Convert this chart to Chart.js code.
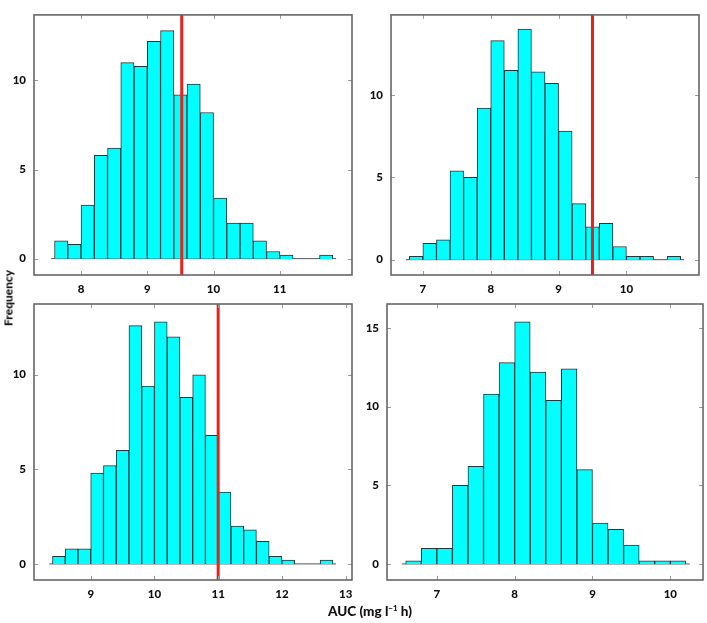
<!DOCTYPE html>
<html>
<head>
<meta charset="utf-8">
<script src="https://cdn.jsdelivr.net/npm/chart.js@4.4.1/dist/chart.umd.min.js"></script>
<style>
  body { margin: 0; background: #fff; }
  #wrap { position: relative; width: 707px; height: 623px; overflow: hidden; }
  #wrap canvas { position: absolute; left: 0; top: 0; }
  .lbl { position: absolute; font-family: Lato, "DejaVu Sans", sans-serif; font-weight: 900; color: #111; white-space: nowrap; }
  #ylab { left: 8px; top: 298px; font-size: 12px; transform: translate(-50%, -50%) rotate(-90deg); }
  #xlab { left: 370px; top: 611px; font-size: 13.5px; transform: translate(-50%, -50%); }
  #xlab sup { font-size: 8px; }
</style>
</head>
<body>
<div id="wrap">
  <canvas id="c1" width="707" height="623"></canvas>
  <canvas id="c2" width="707" height="623"></canvas>
  <canvas id="c3" width="707" height="623"></canvas>
  <canvas id="c4" width="707" height="623"></canvas>
  <div class="lbl" id="ylab">Frequency</div>
  <div class="lbl" id="xlab">AUC (mg l<sup>−1</sup> h)</div>
</div>
<script>
// histogram bins: width 0.2, first bin start, frequencies
const binW = 0.2

const p1Start = 7.6
const p1Counts = [1.0, 0.8, 3.0, 5.8, 6.2, 11.0, 10.8, 12.2, 12.8, 9.2, 9.8, 8.2, 3.4, 2.0, 2.0, 1.0, 0.4, 0.2, 0, 0, 0.2]
const p1Ref = 9.52
const p1XTicks = [8, 9, 10, 11]
const p1YTicks = [0, 5, 10]

const p2Start = 6.8
const p2Counts = [0.2, 1.0, 1.2, 5.4, 5.0, 9.2, 13.3, 11.5, 14.0, 11.4, 10.7, 7.8, 3.4, 2.0, 2.2, 0.8, 0.2, 0.2, 0, 0.2]
const p2Ref = 9.5
const p2XTicks = [7, 8, 9, 10]
const p2YTicks = [0, 5, 10]

const p3Start = 8.4
const p3Counts = [0.4, 0.8, 0.8, 4.8, 5.2, 6.0, 12.6, 9.4, 12.8, 12.0, 8.8, 10.0, 6.8, 3.8, 2.0, 1.8, 1.2, 0.4, 0.2, 0, 0, 0.2]
const p3Ref = 11.0
const p3XTicks = [9, 10, 11, 12, 13]
const p3YTicks = [0, 5, 10]

const p4Start = 6.6
const p4Counts = [0.2, 1.0, 1.0, 5.0, 6.2, 10.8, 12.8, 15.4, 12.2, 10.4, 12.4, 6.0, 2.6, 2.2, 1.2, 0.2, 0.2, 0.2]
const p4Ref = null
const p4XTicks = [7, 8, 9, 10]
const p4YTicks = [0, 5, 10, 15]

const W = 707, H = 623
const yAxisW = 30, xAxisH = 24

/* frame + ticks pointing inwards */
const framePlugin = {
    id: 'frame',
    afterDatasetsDraw(chart) {
        const a = chart.chartArea, ctx = chart.ctx
        const xs = chart.scales.x, ys = chart.scales.y
        ctx.save()
        ctx.strokeStyle = '#9a9a9a'
        ctx.lineWidth = 1
        ctx.beginPath()
        xs.ticks.forEach(t => {
            const px = Math.round(xs.getPixelForValue(t.value)) + 0.5
            ctx.moveTo(px, a.top); ctx.lineTo(px, a.top + 4)
            ctx.moveTo(px, a.bottom); ctx.lineTo(px, a.bottom - 4)
        })
        ys.ticks.forEach(t => {
            const py = Math.round(ys.getPixelForValue(t.value)) + 0.5
            ctx.moveTo(a.left, py); ctx.lineTo(a.left + 4, py)
            ctx.moveTo(a.right, py); ctx.lineTo(a.right - 4, py)
        })
        ctx.stroke()
        ctx.strokeStyle = '#666'
        ctx.lineWidth = 1.6
        ctx.strokeRect(a.left, a.top, a.right - a.left, a.bottom - a.top)
        ctx.restore()
    }
}

function makePanel(id, area, start, counts, ref, xr, yr, xTicks, yTicks) {
    const bars = counts.map((c, i) => ({ x: +(start + binW * i + binW / 2).toFixed(2), y: c > 0 ? c : null }))
    const end = start + binW * counts.length
    const datasets = [
        {
            type: 'bar',
            data: bars,
            backgroundColor: '#00ffff',
            borderColor: '#1d3b3d',
            borderWidth: 1,
            borderSkipped: 'start',
            barPercentage: 1,
            categoryPercentage: 1,
            order: 1
        },
        {
            type: 'line',
            data: [{ x: start - 0.05, y: 0 }, { x: end + 0.05, y: 0 }],
            borderColor: '#555',
            borderWidth: 1,
            pointRadius: 0,
            order: 2
        }
    ]
    if (ref !== null) {
        datasets.push({
            type: 'line',
            data: [{ x: ref, y: yr[0] }, { x: ref, y: yr[1] }],
            borderColor: '#e8221b',
            borderWidth: 3,
            pointRadius: 0,
            order: 0
        })
    }
    const tickFont = { family: 'Lato, "DejaVu Sans", sans-serif', size: 11.5, weight: '900' }
    return new Chart(document.getElementById(id), {
        type: 'bar',
        data: { datasets },
        options: {
            responsive: false,
            animation: false,
            events: [],
            layout: {
                padding: {
                    left: area.l - yAxisW,
                    top: area.t,
                    right: W - area.r,
                    bottom: H - area.b - xAxisH
                }
            },
            plugins: { legend: { display: false }, tooltip: { enabled: false } },
            scales: {
                x: {
                    type: 'linear',
                    offset: false,
                    min: xr[0], max: xr[1],
                    grid: { display: false, drawTicks: false },
                    border: { display: false },
                    afterBuildTicks: s => { s.ticks = xTicks.map(v => ({ value: v })) },
                    afterFit: s => { s.height = xAxisH },
                    ticks: { color: '#111', font: tickFont, padding: 7, maxRotation: 0 }
                },
                y: {
                    min: yr[0], max: yr[1],
                    grid: { display: false, drawTicks: false },
                    border: { display: false },
                    afterBuildTicks: s => { s.ticks = yTicks.map(v => ({ value: v })) },
                    afterFit: s => { s.width = yAxisW },
                    ticks: { color: '#111', font: tickFont, padding: 8 }
                }
            }
        },
        plugins: [framePlugin]
    })
}

makePanel('c1', { l: 34, t: 5, r: 352, b: 275 }, p1Start, p1Counts, p1Ref, [7.29, 12.09], [-0.92, 13.68], p1XTicks, p1YTicks)
makePanel('c2', { l: 391, t: 3, r: 699, b: 275 }, p2Start, p2Counts, p2Ref, [6.53, 11.07], [-0.93, 14.86], p2XTicks, p2YTicks)
makePanel('c3', { l: 34, t: 304, r: 352, b: 580 }, p3Start, p3Counts, p3Ref, [8.11, 13.1], [-0.85, 13.74], p3XTicks, p3YTicks)
makePanel('c4', { l: 387, t: 304, r: 703, b: 580 }, p4Start, p4Counts, p4Ref, [6.36, 10.42], [-1.02, 16.53], p4XTicks, p4YTicks)
</script>
</body>
</html>
